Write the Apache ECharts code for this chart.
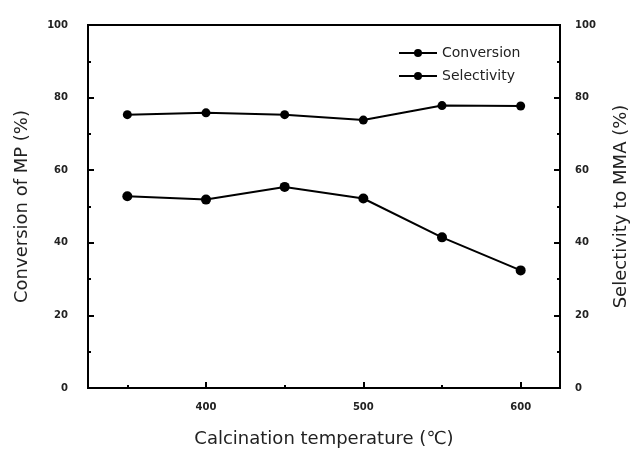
<!DOCTYPE html>
<html>
<head>
<meta charset="utf-8">
<script src="https://cdn.jsdelivr.net/npm/echarts@6/dist/echarts.min.js"></script>
<style>
  html, body { margin: 0; padding: 0; background: #fff; }
  #chart { width: 632px; height: 451px; }
</style>
</head>
<body>
<div id="chart"></div>
<script>
// calcination temperature (℃)
const temperatures = [350, 400, 450, 500, 550, 600]
const conversion = [52.8, 51.9, 55.4, 52.2, 41.5, 32.4]
const selectivity = [75.3, 75.8, 75.3, 73.8, 77.8, 77.7]
const xMajorTicks = [400, 500, 600]
const xMinorTicks = [350, 450, 550]

const font = 'DejaVu Sans, Liberation Sans, sans-serif'
const textColor = '#222'

const pairs = vals => temperatures.map((t, i) => [t, vals[i]])

const yAxisCommon = {
    type: 'value',
    min: 0,
    max: 100,
    interval: 20,
    nameLocation: 'middle',
    nameTextStyle: { fontFamily: font, fontSize: 18, color: textColor },
    axisLine: { show: true, lineStyle: { color: '#000', width: 2 } },
    axisTick: { inside: true, length: 6, lineStyle: { color: '#000', width: 2 } },
    minorTick: { show: true, splitNumber: 2, length: 3, lineStyle: { color: '#000', width: 2 } },
    splitLine: { show: false },
    axisLabel: { fontFamily: font, fontSize: 10, fontWeight: 'bold', color: textColor }
}

const chart = echarts.init(document.getElementById('chart'))
chart.setOption({
    animation: false,
    backgroundColor: '#fff',
    grid: {
        left: 88,
        right: 72,
        top: 25,
        bottom: 63,
        outerBoundsMode: 'none',
        show: true,
        borderColor: '#000',
        borderWidth: 2
    },
    legend: {
        orient: 'vertical',
        left: 393,
        top: 41,
        itemWidth: 38,
        itemHeight: 10,
        itemGap: 9,
        textStyle: { fontFamily: font, fontSize: 14, color: textColor },
        data: ['Conversion', 'Selectivity']
    },
    xAxis: [
        {
            type: 'value',
            min: 325,
            max: 625,
            name: 'Calcination temperature (℃)',
            nameLocation: 'middle',
            nameGap: 42,
            nameTextStyle: { fontFamily: font, fontSize: 18, color: textColor },
            axisLine: { lineStyle: { color: '#000', width: 2 } },
            axisTick: { inside: true, length: 6, customValues: xMajorTicks, lineStyle: { color: '#000', width: 2 } },
            axisLabel: { customValues: xMajorTicks, margin: 14, fontFamily: font, fontSize: 10, fontWeight: 'bold', color: textColor },
            splitLine: { show: false }
        },
        {
            type: 'value',
            min: 325,
            max: 625,
            position: 'bottom',
            axisLine: { show: false },
            axisTick: { inside: true, length: 3, customValues: xMinorTicks, lineStyle: { color: '#000', width: 2 } },
            axisLabel: { show: false },
            splitLine: { show: false }
        }
    ],
    yAxis: [
        Object.assign({}, yAxisCommon, {
            position: 'left',
            name: 'Conversion of MP (%)',
            nameGap: 57,
            axisLabel: Object.assign({}, yAxisCommon.axisLabel, { margin: 20 })
        }),
        Object.assign({}, yAxisCommon, {
            position: 'right',
            name: 'Selectivity to MMA (%)',
            nameGap: 52,
            axisLabel: Object.assign({}, yAxisCommon.axisLabel, { margin: 15 })
        })
    ],
    series: [
        {
            name: 'Conversion',
            type: 'line',
            yAxisIndex: 0,
            data: pairs(conversion),
            symbol: 'circle',
            symbolSize: 10,
            itemStyle: { color: '#000' },
            lineStyle: { color: '#000', width: 2 }
        },
        {
            name: 'Selectivity',
            type: 'line',
            yAxisIndex: 1,
            data: pairs(selectivity),
            symbol: 'circle',
            symbolSize: 9,
            itemStyle: { color: '#000' },
            lineStyle: { color: '#000', width: 2 }
        }
    ]
})
</script>
</body>
</html>
